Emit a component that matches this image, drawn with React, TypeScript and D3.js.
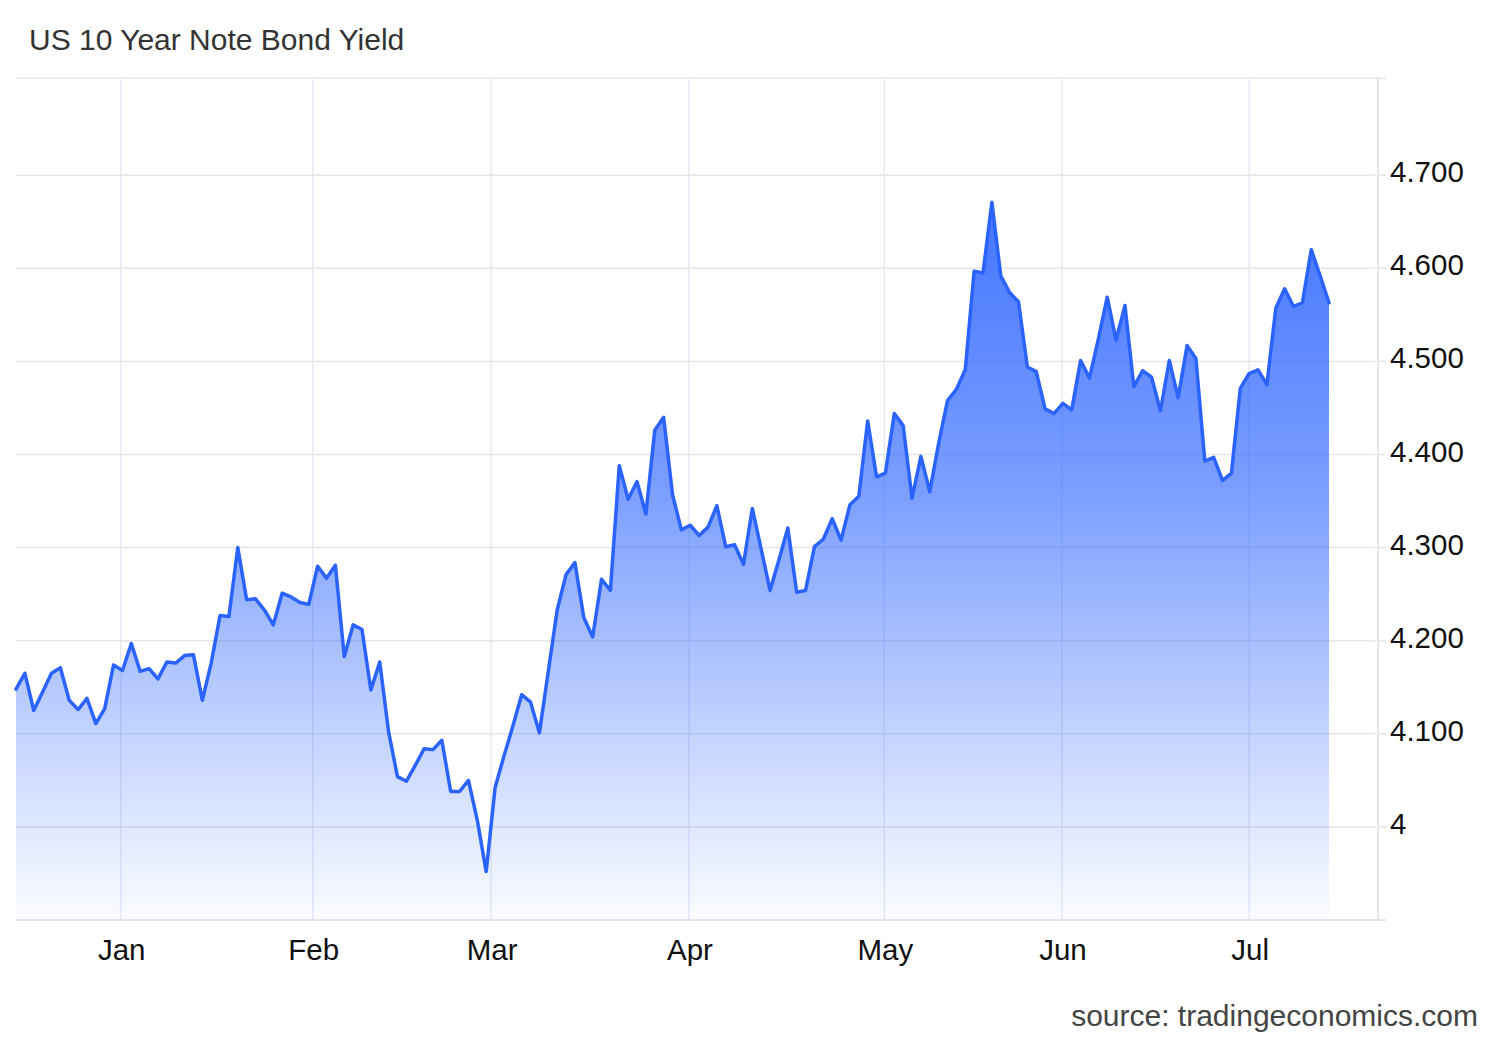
import React, { useEffect } from "react";
import * as d3 from "d3";

const title = "US 10 Year Note Bond Yield";
const source = "source: tradingeconomics.com";

// One value per trading session (ordinal axis, equally spaced)
const yields: number[] = [
  4.148, 4.165, 4.125, 4.145, 4.165, 4.171, 4.136, 4.126, 4.138, 4.111,
  4.127, 4.174, 4.168, 4.197, 4.167, 4.170, 4.159, 4.177, 4.176, 4.184,
  4.185, 4.136, 4.176, 4.227, 4.226, 4.300, 4.244, 4.245, 4.233, 4.217,
  4.251, 4.247, 4.241, 4.239, 4.280, 4.267, 4.281, 4.183, 4.217, 4.212,
  4.147, 4.177, 4.102, 4.054, 4.049, 4.066, 4.084, 4.083, 4.093, 4.038,
  4.038, 4.050, 4.007, 3.952, 4.042, 4.076, 4.108, 4.142, 4.134, 4.101,
  4.167, 4.233, 4.271, 4.284, 4.225, 4.204, 4.266, 4.254, 4.388, 4.352,
  4.371, 4.336, 4.426, 4.440, 4.357, 4.319, 4.324, 4.313, 4.322, 4.345,
  4.301, 4.303, 4.282, 4.342, 4.298, 4.254, 4.287, 4.321, 4.252, 4.254,
  4.301, 4.309, 4.331, 4.308, 4.346, 4.355, 4.436, 4.376, 4.380, 4.444,
  4.431, 4.353, 4.398, 4.360, 4.412, 4.458, 4.470, 4.491, 4.597, 4.595,
  4.671, 4.592, 4.574, 4.564, 4.494, 4.489, 4.449, 4.444, 4.455, 4.448,
  4.501, 4.482, 4.524, 4.569, 4.523, 4.560, 4.473, 4.490, 4.483, 4.447,
  4.501, 4.461, 4.517, 4.503, 4.393, 4.397, 4.372, 4.380, 4.471, 4.487,
  4.491, 4.475, 4.557, 4.578, 4.559, 4.563, 4.620, 4.592, 4.563,
];

// Month boundaries on the ordinal (session-index) axis
const monthLabels = ["Jan", "Feb", "Mar", "Apr", "May", "Jun", "Jul"];
const monthPositions = [11.8, 33.45, 53.55, 75.86, 97.88, 117.9, 139.0];

const yTicks = [4.0, 4.1, 4.2, 4.3, 4.4, 4.5, 4.6, 4.7];
const yTickLabels = ["4", "4.100", "4.200", "4.300", "4.400", "4.500", "4.600", "4.700"];

const W = 1500;
const H = 1040;
const plotLeft = 16;
const plotRight = 1375;
const plotTop = 78;
const plotBottom = 920;
const axisX = 1378;
const lastX = 1329;

const FONT = "'Liberation Sans', Arial, Helvetica, sans-serif";
const LINE = "#2a63ff";

export default function App() {
  useEffect(() => {
    document.body.style.margin = "0";
    document.body.style.overflow = "hidden";
  }, []);

  const x = d3.scaleLinear().domain([0, yields.length - 1]).range([plotLeft, lastX]);
  const y = d3.scaleLinear().domain([3.9, 4.8]).range([plotBottom, 82.1]);

  const line = d3
    .line<number>()
    .x((_, i) => x(i))
    .y((d) => y(d));
  const area = d3
    .area<number>()
    .x((_, i) => x(i))
    .y0(plotBottom)
    .y1((d) => y(d));

  return (
    <svg
      width={W}
      height={H}
      viewBox={`0 0 ${W} ${H}`}
      style={{ position: "absolute", left: 0, top: 0, background: "#ffffff" }}
    >
      <defs>
        <linearGradient id="fillGrad" gradientUnits="userSpaceOnUse" x1="0" y1={y(4.67)} x2="0" y2={plotBottom}>
          <stop offset="0" stopColor={LINE} stopOpacity={0.88} />
          <stop offset="0.4" stopColor={LINE} stopOpacity={0.62} />
          <stop offset="0.7" stopColor={LINE} stopOpacity={0.32} />
          <stop offset="1" stopColor={LINE} stopOpacity={0.02} />
        </linearGradient>
      </defs>
      <rect x={0} y={0} width={W} height={H} fill="#ffffff" />

      <text x={29} y={50} fontFamily={FONT} fontSize={30} fill="#333333">
        {title}
      </text>

      {/* vertical grid lines at month starts */}
      {monthPositions.map((m, i) => (
        <line key={"vg" + i} x1={x(m)} x2={x(m)} y1={plotTop} y2={plotBottom} stroke="#e6e9f6" strokeWidth={1.5} />
      ))}

      {/* horizontal grid lines */}
      <line x1={plotLeft} x2={axisX + 8} y1={plotTop} y2={plotTop} stroke="#e6e6e6" strokeWidth={1.5} />
      {yTicks.map((t, i) => (
        <g key={"hg" + i}>
          <line x1={plotLeft} x2={plotRight} y1={y(t)} y2={y(t)} stroke="#e6e6e6" strokeWidth={1.5} />
          <line x1={axisX} x2={axisX + 8} y1={y(t)} y2={y(t)} stroke="#e6e6e6" strokeWidth={1.5} />
        </g>
      ))}

      <path d={area(yields) ?? ""} fill="url(#fillGrad)" />
      <path d={line(yields) ?? ""} fill="none" stroke={LINE} strokeWidth={3.5} strokeLinejoin="round" strokeLinecap="round" />

      {/* axes */}
      <line x1={plotLeft} x2={axisX + 8} y1={plotBottom} y2={plotBottom} stroke="#e6e6e6" strokeWidth={2} />
      <line x1={axisX} x2={axisX} y1={plotTop} y2={plotBottom} stroke="#e6e6e6" strokeWidth={2} />

      {yTicks.map((t, i) => (
        <text key={"yl" + i} x={1390} y={y(t) + 7} fontFamily={FONT} fontSize={29.5} fill="#111111">
          {yTickLabels[i]}
        </text>
      ))}

      {monthPositions.map((m, i) => (
        <text key={"xl" + i} x={x(m) + 1} y={960} textAnchor="middle" fontFamily={FONT} fontSize={29.5} fill="#111111">
          {monthLabels[i]}
        </text>
      ))}

      <text x={1478} y={1026} textAnchor="end" fontFamily={FONT} fontSize={30} fill="#444444">
        {source}
      </text>
    </svg>
  );
}
